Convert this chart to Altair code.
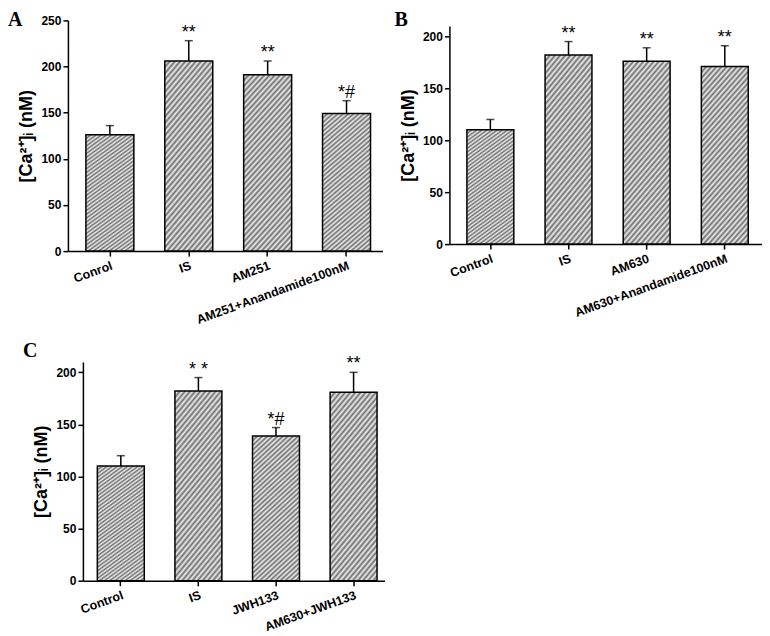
import altair as alt
import pandas as pd

# ---- Panel A ----
a_groups = ["Conrol", "IS", "AM251", "AM251+Anandamide100nM"]
a_means = [126, 206, 191, 149]
a_errors = [10, 22, 15, 14]
a_marks = ["", "**", "**", "*#"]

# ---- Panel B ----
b_groups = ["Control", "IS", "AM630", "AM630+Anandamide100nM"]
b_means = [110, 182, 176, 171]
b_errors = [10, 13, 13, 20]
b_marks = ["", "**", "**", "**"]

# ---- Panel C ----
c_groups = ["Control", "IS", "JWH133", "AM630+JWH133"]
c_means = [110, 182, 139, 181]
c_errors = [10, 13, 8, 19]
c_marks = ["", "* *", "*#", "**"]

Y_TITLE = "[Ca²⁺]ᵢ (nM)"
SANS = "Liberation Sans"
SERIF = "Liberation Serif"

# diagonal hatch imitation: soft striped linear gradient (bar bounding-box units)
N_STRIPES = 40
DARK, LIGHT = "#6e6e6e", "#eeeeee"
_stops = []
for k in range(N_STRIPES):
    _stops += [{"offset": k / N_STRIPES, "color": DARK},
               {"offset": (k + 0.5) / N_STRIPES, "color": LIGHT}]
_stops.append({"offset": 1, "color": DARK})
HATCH = {"gradient": "linear", "x1": 0, "y1": 0, "x2": 0.36, "y2": 1.2, "stops": _stops}


def panel(groups, means, errors, marks, letter, ymax, width, height, ytop,
          xalign, pinner, pouter, lx, ly, xshift=0):
    df = pd.DataFrame({"group": groups, "mean": means, "err": errors, "mark": marks})
    df["top"] = df["mean"] + df["err"]

    xscale = alt.Scale(domain=groups, paddingInner=pinner, paddingOuter=pouter,
                       align=xalign, range=[xshift, width])
    yscale = alt.Scale(domain=[0, ymax], range=[height, ytop], nice=False, zero=True)

    xaxis = alt.Axis(title=None, labelAngle=340, labelAlign="right", labelBaseline="top",
                     labelFont=SANS, labelFontWeight="bold", labelFontSize=12.5,
                     labelColor="black", labelPadding=3, tickSize=5, tickColor="black",
                     tickWidth=1.5, domainColor="black", domainWidth=1.5, grid=False,
                     labelOverlap=False, labelLimit=300)
    yaxis = alt.Axis(title=Y_TITLE, values=list(range(0, ymax + 1, 25)),
                     labelExpr="datum.value % 50 == 0 ? datum.label : ''",
                     labelFont=SANS, labelFontWeight="bold", labelFontSize=12,
                     labelColor="black", labelPadding=2,
                     tickSize={"condition": {"test": "datum.value % 50 == 0", "value": 5}, "value": 3},
                     tickColor="black", tickWidth=1.5, domainColor="black", domainWidth=1.5,
                     grid=False, titleFont=SANS, titleFontWeight="bold", titleFontSize=18,
                     titleColor="black", titlePadding=5, offset=-xshift)

    base = alt.Chart(df)
    x = alt.X("group:N", scale=xscale, axis=xaxis)
    bars = base.mark_bar(fill=HATCH, stroke="black", strokeWidth=1.5).encode(
        x=x, y=alt.Y("mean:Q", scale=yscale, axis=yaxis))
    rule = base.mark_rule(color="black", strokeWidth=1.5).encode(
        x=x, y="mean:Q", y2="top:Q")
    cap = base.mark_tick(color="black", size=8, thickness=1.5).encode(x=x, y="top:Q")
    ann = base.mark_text(font=SANS, fontSize=18, baseline="alphabetic", dy=-3,
                         color="black").encode(x=x, y="top:Q", text="mark:N")
    lab = alt.Chart(pd.DataFrame({"t": [letter]})).mark_text(
        font=SERIF, fontWeight="bold", fontSize=20, align="left", baseline="alphabetic",
        color="black").encode(x=alt.value(lx), y=alt.value(ly), text="t:N")
    return alt.layer(bars, rule, cap, ann, lab).properties(width=width, height=height)


pa = panel(a_groups, a_means, a_errors, a_marks, "A", 250, 315, 231, 0,
           0.6, 0.392, 0.19, -60, 6)
pb = panel(b_groups, b_means, b_errors, b_marks, "B", 210, 313, 224, 5.6,
           0.56, 0.4, 0.2, -55, 6)
pc = panel(c_groups, c_means, c_errors, c_marks, "C", 210, 317, 219, 0,
           0.66, 0.395, 0.141, -45, -5, xshift=15)

chart = alt.concat(pa, pb, pc, columns=2, spacing={"row": 111, "column": 65},
                   bounds="flush").properties(
    padding={"top": 2, "left": 0, "right": 0, "bottom": 0}
).configure_view(stroke=None)

chart.save("out.html", embed_options={"renderer": "svg", "actions": False})
